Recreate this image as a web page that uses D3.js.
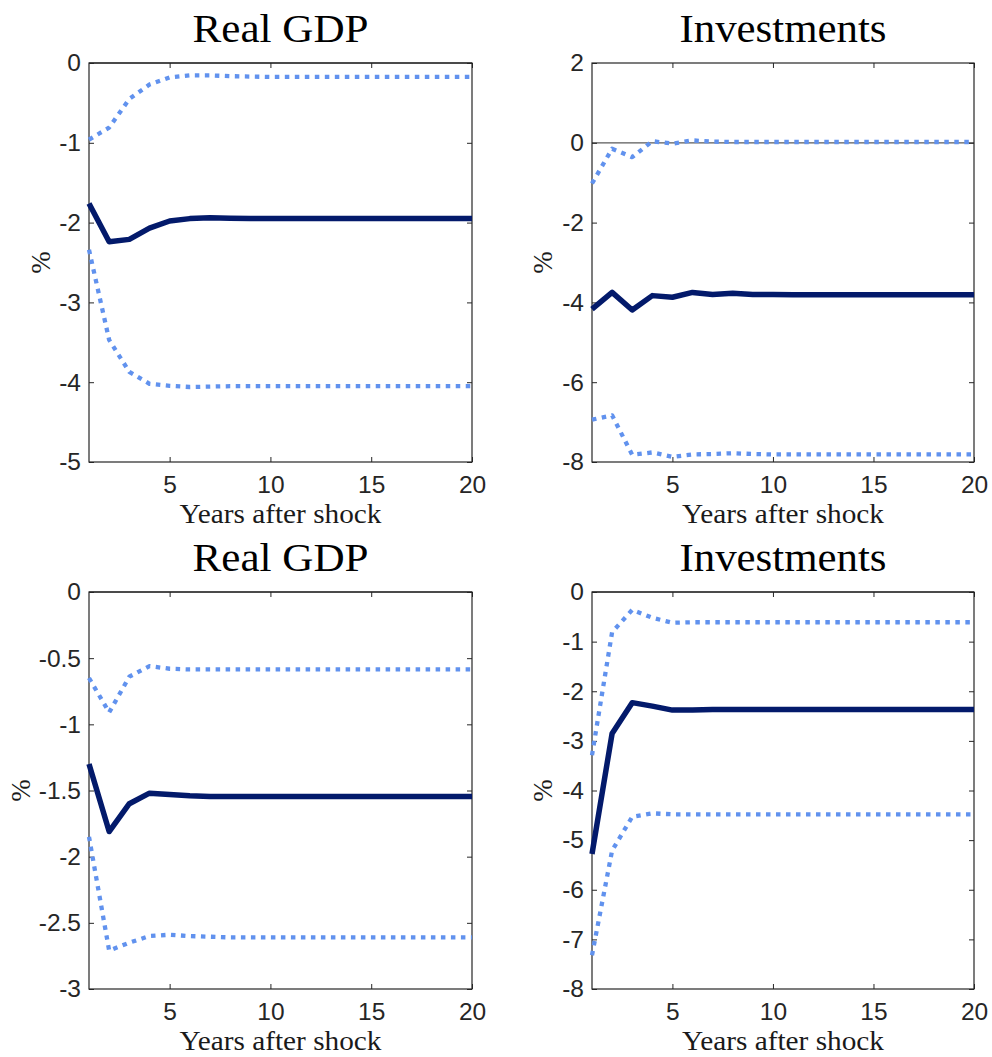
<!DOCTYPE html>
<html>
<head>
<meta charset="utf-8">
<script src="https://cdn.jsdelivr.net/npm/d3@7"></script>
<style>
  html, body { margin: 0; padding: 0; background: #ffffff; }
  svg { display: block; }
</style>
</head>
<body>
<svg id="chart" width="992" height="1057"></svg>
<script>
// Horizon (years after shock)
const years = d3.range(1, 21);
const xTicks = [5, 10, 15, 20];

// Panel titles
const titles = ["Real GDP", "Investments", "Real GDP", "Investments"];

// Real GDP, first shock: median response and bands (%)
const gdpA_median = [-1.76, -2.24, -2.21, -2.07, -1.98, -1.95, -1.94, -1.945, -1.95, -1.95, -1.95, -1.95, -1.95, -1.95, -1.95, -1.95, -1.95, -1.95, -1.95, -1.95];
const gdpA_upper  = [-0.96, -0.81, -0.45, -0.27, -0.18, -0.155, -0.155, -0.165, -0.17, -0.175, -0.175, -0.175, -0.175, -0.175, -0.175, -0.175, -0.175, -0.175, -0.175, -0.175];
const gdpA_lower  = [-2.34, -3.47, -3.87, -4.02, -4.045, -4.06, -4.055, -4.05, -4.05, -4.05, -4.05, -4.05, -4.05, -4.05, -4.05, -4.05, -4.05, -4.05, -4.05, -4.05];

// Investments, first shock
const invA_median = [-4.17, -3.75, -4.19, -3.83, -3.87, -3.75, -3.80, -3.77, -3.80, -3.80, -3.81, -3.81, -3.81, -3.81, -3.81, -3.81, -3.81, -3.81, -3.81, -3.81];
const invA_upper  = [-1.02, -0.15, -0.36, 0.04, -0.02, 0.06, 0.03, 0.02, 0.02, 0.02, 0.02, 0.02, 0.02, 0.02, 0.02, 0.02, 0.02, 0.02, 0.02, 0.02];
const invA_lower  = [-6.94, -6.83, -7.82, -7.76, -7.87, -7.81, -7.80, -7.78, -7.80, -7.81, -7.81, -7.81, -7.81, -7.81, -7.81, -7.81, -7.81, -7.81, -7.81, -7.81];

// Real GDP, second shock
const gdpB_median = [-1.30, -1.81, -1.60, -1.52, -1.53, -1.54, -1.545, -1.545, -1.545, -1.545, -1.545, -1.545, -1.545, -1.545, -1.545, -1.545, -1.545, -1.545, -1.545, -1.545];
const gdpB_upper  = [-0.65, -0.91, -0.64, -0.56, -0.58, -0.585, -0.585, -0.585, -0.585, -0.585, -0.585, -0.585, -0.585, -0.585, -0.585, -0.585, -0.585, -0.585, -0.585, -0.585];
const gdpB_lower  = [-1.85, -2.71, -2.65, -2.60, -2.59, -2.60, -2.605, -2.61, -2.61, -2.61, -2.61, -2.61, -2.61, -2.61, -2.61, -2.61, -2.61, -2.61, -2.61, -2.61];

// Investments, second shock
const invB_median = [-5.28, -2.85, -2.23, -2.30, -2.38, -2.38, -2.37, -2.37, -2.37, -2.37, -2.37, -2.37, -2.37, -2.37, -2.37, -2.37, -2.37, -2.37, -2.37, -2.37];
const invB_upper  = [-3.29, -0.81, -0.36, -0.52, -0.62, -0.61, -0.61, -0.61, -0.61, -0.61, -0.61, -0.61, -0.61, -0.61, -0.61, -0.61, -0.61, -0.61, -0.61, -0.61];
const invB_lower  = [-7.32, -5.21, -4.53, -4.46, -4.48, -4.48, -4.48, -4.48, -4.48, -4.48, -4.48, -4.48, -4.48, -4.48, -4.48, -4.48, -4.48, -4.48, -4.48, -4.48];

// Y-axis ranges and tick values per panel
const yDomains = [[-5, 0], [-8, 2], [-3, 0], [-8, 0]];
const yTicksA = [-5, -4, -3, -2, -1, 0];
const yTicksB = [-8, -6, -4, -2, 0, 2];
const yTicksC = [-3, -2.5, -2, -1.5, -1, -0.5, 0];
const yTicksD = [-8, -7, -6, -5, -4, -3, -2, -1, 0];

const xLabel = "Years after shock";
const yLabel = "%";

const panels = [
  { title: titles[0], dom: yDomains[0], ticks: yTicksA, median: gdpA_median, upper: gdpA_upper, lower: gdpA_lower },
  { title: titles[1], dom: yDomains[1], ticks: yTicksB, median: invA_median, upper: invA_upper, lower: invA_lower },
  { title: titles[2], dom: yDomains[2], ticks: yTicksC, median: gdpB_median, upper: gdpB_upper, lower: gdpB_lower },
  { title: titles[3], dom: yDomains[3], ticks: yTicksD, median: invB_median, upper: invB_upper, lower: invB_lower }
];

// Placement of the four axes boxes
const boxes = [
  { left: 89,  top: 63,  width: 383, height: 399, ylabX: 41 },
  { left: 592, top: 63,  width: 382, height: 399, ylabX: 543 },
  { left: 89,  top: 592, width: 383, height: 397, ylabX: 21 },
  { left: 592, top: 592, width: 382, height: 397, ylabX: 543 }
];

const svg = d3.select("#chart");
const axisColor = "#262626";
const medianColor = "#031a6b";
const bandColor = "#6192ee";
const tickFont = "'Liberation Sans', Arial, Helvetica, sans-serif";
const serifFont = "'Liberation Serif', 'Times New Roman', serif";

panels.forEach((p, i) => {
  const b = boxes[i];
  const g = svg.append("g").attr("transform", `translate(${b.left},${b.top})`);

  const x = d3.scaleLinear().domain([1, 20]).range([0, b.width]);
  const y = d3.scaleLinear().domain(p.dom).range([b.height, 0]);

  // zero reference line
  g.append("line")
    .attr("x1", 0).attr("x2", b.width)
    .attr("y1", y(0)).attr("y2", y(0))
    .attr("stroke", "#5a5a5a").attr("stroke-width", 1.3);

  const fmt = d => String(d);

  // bottom axis with labels, ticks pointing inward
  const gx = g.append("g").attr("transform", `translate(0,${b.height})`)
    .call(d3.axisBottom(x).tickValues(xTicks).tickFormat(fmt).tickSizeInner(-5).tickSizeOuter(0).tickPadding(14));
  // left axis with labels
  const gy = g.append("g")
    .call(d3.axisLeft(y).tickValues(p.ticks).tickFormat(fmt).tickSizeInner(-5).tickSizeOuter(0).tickPadding(8));
  // mirrored ticks on top and right
  const gt = g.append("g")
    .call(d3.axisTop(x).tickValues(xTicks).tickFormat("").tickSizeInner(-5).tickSizeOuter(0));
  const gr = g.append("g").attr("transform", `translate(${b.width},0)`)
    .call(d3.axisRight(y).tickValues(p.ticks).tickFormat("").tickSizeInner(-5).tickSizeOuter(0));

  [gx, gy, gt, gr].forEach(a => {
    a.select(".domain").remove();
    a.selectAll(".tick line").attr("stroke", axisColor).attr("stroke-width", 1);
    a.selectAll(".tick text")
      .attr("fill", axisColor)
      .style("font-family", tickFont)
      .style("font-size", "24.5px");
  });

  // box outline
  g.append("rect")
    .attr("x", 0).attr("y", 0)
    .attr("width", b.width).attr("height", b.height)
    .attr("fill", "none")
    .attr("stroke", axisColor).attr("stroke-width", 1.2);

  const line = d3.line().x((d, k) => x(years[k])).y(d => y(d));

  // confidence bands (dotted)
  [p.upper, p.lower].forEach(series => {
    g.append("path")
      .datum(series)
      .attr("d", line)
      .attr("fill", "none")
      .attr("stroke", bandColor)
      .attr("stroke-width", 4.3)
      .attr("stroke-dasharray", "4.5,5.5")
      .attr("stroke-linejoin", "round");
  });

  // median response
  g.append("path")
    .datum(p.median)
    .attr("d", line)
    .attr("fill", "none")
    .attr("stroke", medianColor)
    .attr("stroke-width", 5.5)
    .attr("stroke-linejoin", "round");

  // title
  g.append("text")
    .attr("x", b.width / 2).attr("y", -21)
    .attr("text-anchor", "middle")
    .attr("textLength", i % 2 === 0 ? 176 : 207)
    .attr("lengthAdjust", "spacingAndGlyphs")
    .style("font-family", serifFont)
    .style("font-size", "39px")
    .attr("fill", "#000")
    .text(p.title);

  // x-axis label
  g.append("text")
    .attr("x", b.width / 2).attr("y", b.height + 61)
    .attr("text-anchor", "middle")
    .attr("textLength", 202)
    .attr("lengthAdjust", "spacingAndGlyphs")
    .style("font-family", serifFont)
    .style("font-size", "27px")
    .attr("fill", "#1a1a1a")
    .text(xLabel);

  // y-axis label
  svg.append("text")
    .attr("transform", `translate(${b.ylabX},${b.top + b.height / 2}) rotate(-90)`)
    .attr("text-anchor", "middle")
    .attr("dominant-baseline", "central")
    .style("font-family", serifFont)
    .style("font-size", "27px")
    .attr("fill", "#1a1a1a")
    .text(yLabel);
});
</script>
</body>
</html>
